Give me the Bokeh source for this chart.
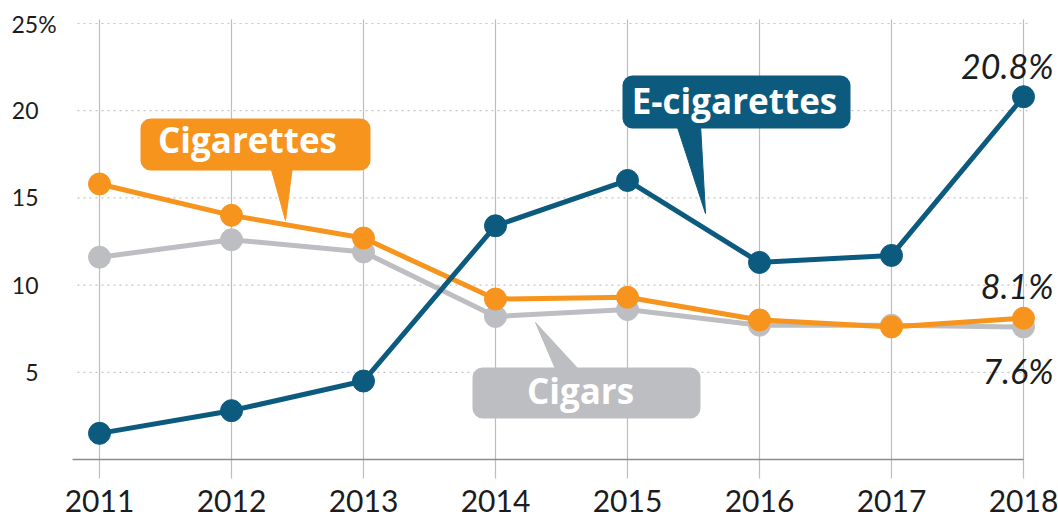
from bokeh.plotting import figure
from bokeh.models import Range1d, BoxAnnotation, Label
from bokeh.embed import file_html
from bokeh.resources import INLINE
from bokeh.core.properties import value

# ---- data ----
years = [2011, 2012, 2013, 2014, 2015, 2016, 2017, 2018]
e_cigarettes = [1.5, 2.8, 4.5, 13.4, 16.0, 11.3, 11.7, 20.8]
cigarettes = [15.8, 14.0, 12.7, 9.2, 9.3, 8.0, 7.6, 8.1]
cigars = [11.6, 12.6, 11.9, 8.2, 8.6, 7.7, 7.7, 7.6]
y_ticks = [5, 10, 15, 20, 25]
y_tick_labels = ["5", "10", "15", "20"]
year_labels = [str(y) for y in years]
end_labels = ["20.8%", "8.1%", "7.6%"]

ORANGE = "#F7941D"
BLUE = "#0C5B7F"
GRAY = "#BDBEC1"
TEXT = "#1c1c1c"

W, H = 1058, 516
PX_PER_YEAR = 132.0
PX_PER_UNIT = 17.44
X_AT_2011 = 99.0
Y0 = 459.0


def px2x(px):
    return 2011 + (px - X_AT_2011) / PX_PER_YEAR


def py2y(py):
    return (Y0 - py) / PX_PER_UNIT


p = figure(width=W, height=H,
           x_range=Range1d(px2x(0), px2x(W)),
           y_range=Range1d(py2y(H), py2y(0)),
           output_backend="svg", toolbar_location=None, min_border=0)
p.xaxis.visible = False
p.yaxis.visible = False
p.grid.visible = False
p.outline_line_color = None
p.background_fill_color = "white"
p.border_fill_color = "white"

# grid lines
p.segment(x0=px2x(77), x1=px2x(1030), y0=y_ticks, y1=y_ticks,
          line_color="#c4c4c4", line_width=1.2, line_dash="2 4")
p.segment(x0=years, x1=years, y0=py2y(478), y1=py2y(19),
          line_color="#bdbdbd", line_width=1.2)
# axis line
p.segment(x0=[px2x(72)], x1=[years[-1]], y0=[0], y1=[0],
          line_color="#8c8c8c", line_width=1.5)

# y tick labels
p.text(x=[px2x(38)] * 4, y=y_ticks[:4], text=y_tick_labels,
       text_align="right", text_baseline="middle",
       text_font=value("Lato"), text_font_size="23px", text_color=TEXT)
p.text(x=[px2x(11)], y=[y_ticks[4]], text=["25%"],
       text_align="left", text_baseline="middle",
       text_font=value("Lato"), text_font_size="23px", text_color=TEXT)

# year labels
p.text(x=years, y=[py2y(500)] * len(years), text=year_labels,
       text_align="center", text_baseline="middle",
       text_font=value("Lato"), text_font_size="30px", text_color=TEXT)

# series
for vals, col in [(cigars, GRAY), (cigarettes, ORANGE), (e_cigarettes, BLUE)]:
    p.line(years, vals, line_color=col, line_width=5)
    p.scatter(years, vals, size=22, fill_color=col, line_color=col)

# end labels
end_centers = [py2y(65), py2y(285), py2y(370)]
p.text(x=[px2x(1053)] * 3, y=end_centers, text=end_labels,
       text_align="right", text_baseline="middle",
       text_font=value("Lato"), text_font_style="italic",
       text_font_size="34px", text_color=TEXT)

# callouts
callouts = [
    ("Cigarettes", ORANGE, (140, 370, 118, 170), 247, 139,
     [(270, 166), (292, 166), (285, 220)]),
    ("E-cigarettes", BLUE, (622, 850, 75, 128), 734, 100,
     [(676, 124), (700, 124), (705, 213)]),
    ("Cigars", GRAY, (472, 700, 367, 418), 580, 390,
     [(535, 322), (556, 371), (580, 371)]),
]
for txt, col, (l, r, t, b), tx, tc, pts in callouts:
    p.patch([px2x(a) for a, _ in pts], [py2y(c) for _, c in pts],
            fill_color=col, line_color=col)
    p.add_layout(BoxAnnotation(left=px2x(l), right=px2x(r), top=py2y(t), bottom=py2y(b),
                               fill_color=col, fill_alpha=1.0, line_color=None,
                               border_radius=10))
    p.add_layout(Label(x=px2x(tx), y=py2y(tc), text=txt, text_align="center",
                       text_baseline="middle", text_font="Open Sans",
                       text_font_style="bold", text_font_size="35px",
                       text_color="white"))

open("out.html", "w").write(file_html(p, INLINE))
